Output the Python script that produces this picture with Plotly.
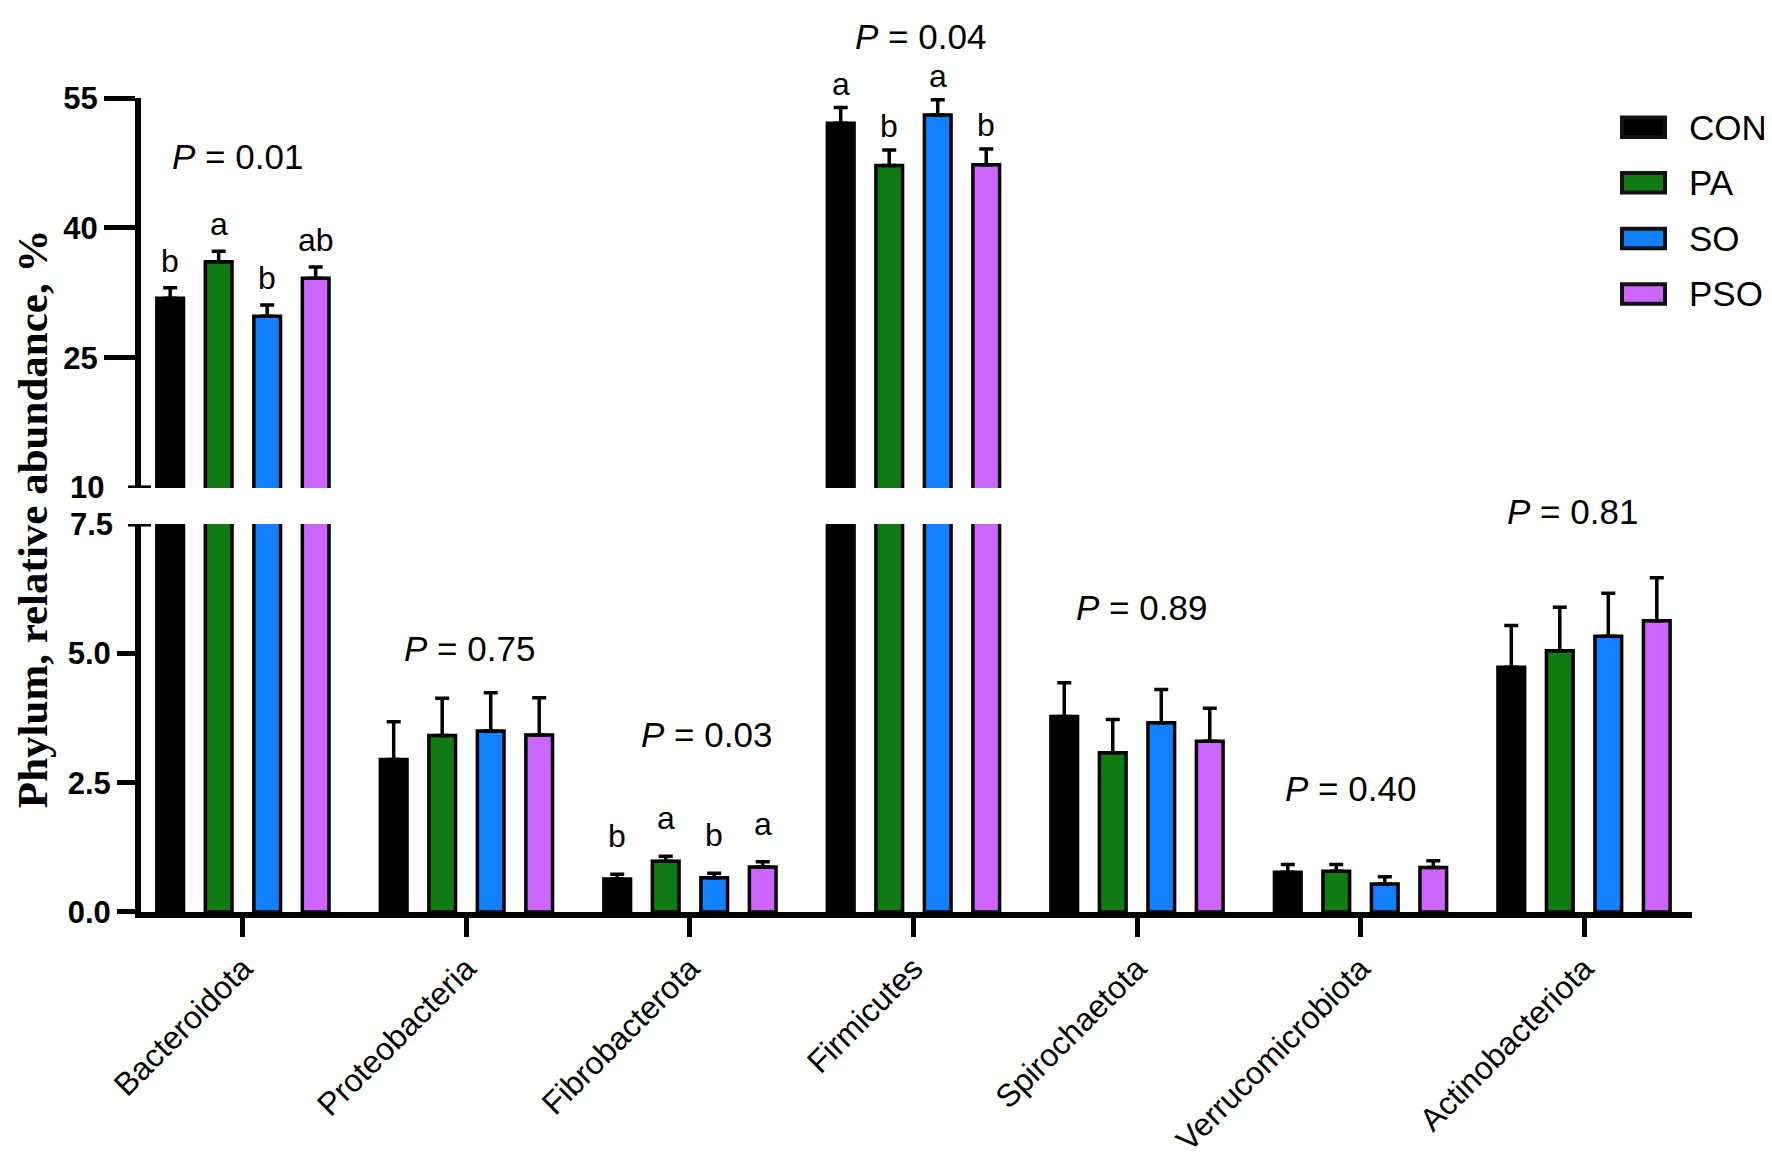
import plotly.graph_objects as go

# Phylum relative abundance (%), mean and SE per treatment
categories = ["Bacteroidota", "Proteobacteria", "Fibrobacterota", "Firmicutes",
              "Spirochaetota", "Verrucomicrobiota", "Actinobacteriota"]
groups = ["CON", "PA", "SO", "PSO"]

con_mean = [31.9, 2.95, 0.64, 52.1, 3.78, 0.77, 4.73]
pa_mean = [36.1, 3.41, 0.98, 47.2, 3.08, 0.79, 5.05]
so_mean = [29.8, 3.50, 0.66, 53.05, 3.66, 0.54, 5.33]
pso_mean = [34.2, 3.42, 0.87, 47.3, 3.30, 0.86, 5.63]

con_se = [1.2, 0.73, 0.09, 1.8, 0.65, 0.15, 0.81]
pa_se = [1.2, 0.72, 0.10, 1.8, 0.64, 0.13, 0.84]
so_se = [1.3, 0.74, 0.09, 1.75, 0.64, 0.14, 0.83]
pso_se = [1.3, 0.72, 0.10, 1.8, 0.64, 0.13, 0.83]

p_values = ["0.01", "0.75", "0.03", "0.04", "0.89", "0.40", "0.81"]

# significance letters (CON, PA, SO, PSO)
letters = {
    "Bacteroidota": ["b", "a", "b", "ab"],
    "Fibrobacterota": ["b", "a", "b", "a"],
    "Firmicutes": ["a", "b", "a", "b"],
}

means = [con_mean, pa_mean, so_mean, pso_mean]
ses = [con_se, pa_se, so_se, pso_se]
colors = ["#000000", "#127A12", "#1380FF", "#CC66FF"]

W, H = 1772, 1162
ML, MR, MT, MB = 133, 88, 90, 237
PW, PH = W - ML - MR, H - MT - MB

SANS = "Liberation Sans, Arial, sans-serif"
SERIF = "Liberation Serif, Times New Roman, serif"

BARGAP = 0.132
x_pos = list(range(len(categories)))


def px_x(px):
    return (px - ML) / PW


def px_y(py):
    return (H - MB - py) / PH


fig = go.Figure()

for j, g in enumerate(groups):
    for xa, ya in [("x", "y"), ("x2", "y2")]:
        fig.add_trace(go.Bar(
            x=x_pos, y=means[j], name=g, xaxis=xa, yaxis=ya,
            marker=dict(color=colors[j], line=dict(color="black", width=3.5)),
            error_y=dict(type="data", symmetric=False, array=ses[j],
                         arrayminus=[0] * len(categories),
                         color="black", thickness=3.5, width=7),
            showlegend=False,
        ))

annotations = []
shapes = []

# P-value labels: (y reference, y, x offset from category centre)
# the two labels sitting above their axis range are placed in paper units
p_place = [("y2", 48.3, -0.025), ("y", 5.09, 0.013), ("y", 3.43, 0.076),
           ("paper", px_y(27), 0.03), ("y", 5.88, 0.02), ("y", 2.39, -0.047),
           ("paper", px_y(514), -0.05)]
for i, p in enumerate(p_values):
    ya, yv, dx = p_place[i]
    annotations.append(dict(
        x=i + dx, y=yv, xref="x", yref=ya, showarrow=False,
        text="<i>P</i> = " + p, font=dict(family=SANS, size=35, color="black"),
        xanchor="center", yanchor="middle"))

# significance letters above error bars
slot = (1 - BARGAP) / 4
letter_shift = {"Bacteroidota": 7, "Firmicutes": 4, "Fibrobacterota": 18}
for cat, labs in letters.items():
    i = categories.index(cat)
    ya = "y" if means[0][i] < 7.5 else "y2"
    for j, lab in enumerate(labs):
        annotations.append(dict(
            x=i + (j - 1.5) * slot, y=means[j][i] + ses[j][i],
            xref="x", yref=ya, showarrow=False, text=lab,
            font=dict(family=SANS, size=32, color="black"),
            xanchor="center", yanchor="bottom", yshift=letter_shift[cat]))

# broken-axis labels and cross bars
annotations.append(dict(x=px_x(98), y=10, xref="paper", yref="y2", text="10",
                        showarrow=False, xanchor="right", yanchor="middle",
                        font=dict(family=SANS, size=31, color="black", weight="bold")))
annotations.append(dict(x=px_x(107), y=7.5, xref="paper", yref="y", text="7.5",
                        showarrow=False, xanchor="right", yanchor="middle",
                        font=dict(family=SANS, size=31, color="black", weight="bold")))
for yr, yv in [("y2", 10), ("y", 7.5)]:
    shapes.append(dict(type="line", xref="paper", yref=yr, x0=px_x(120), x1=px_x(143),
                       y0=yv, y1=yv, line=dict(color="black", width=5)))

# y-axis title spanning both segments
annotations.append(dict(x=px_x(24), y=px_y(522), xref="paper", yref="paper",
                        text="Phylum, relative abundance, %", textangle=-90,
                        showarrow=False, xanchor="center", yanchor="middle",
                        font=dict(family=SERIF, size=43, color="black", weight="bold")))

# legend
leg_y = [120, 177, 234, 291]
for j, g in enumerate(groups):
    shapes.append(dict(type="rect", xref="paper", yref="paper",
                       x0=px_x(1614), x1=px_x(1657),
                       y0=px_y(leg_y[j] + 10), y1=px_y(leg_y[j] - 10),
                       fillcolor=colors[j], line=dict(color="#111111", width=4)))
    annotations.append(dict(x=px_x(1679), y=px_y(leg_y[j]), xref="paper", yref="paper",
                            text=g, showarrow=False, xanchor="left", yanchor="middle",
                            font=dict(family=SANS, size=35, color="black")))

fig.update_layout(
    width=W, height=H,
    margin=dict(l=ML, r=MR, t=MT, b=MB),
    paper_bgcolor="white", plot_bgcolor="white",
    barmode="group", bargap=BARGAP, bargroupgap=0.45,
    showlegend=False,
    xaxis=dict(domain=[0, 1], anchor="y", range=[-0.456, 6.483],
               tickvals=x_pos, ticktext=categories, tickangle=-45,
               ticks="outside", ticklen=19, tickwidth=5, tickcolor="black",
               showline=True, linewidth=6, linecolor="black",
               showgrid=False, zeroline=False,
               tickfont=dict(family=SANS, size=32, color="black")),
    xaxis2=dict(domain=[0, 1], anchor="y2", matches="x", visible=False),
    yaxis=dict(domain=[0, 0.4766], anchor="x", range=[0, 7.5],
               tickvals=[0, 2.5, 5.0], tickformat=".1f",
               ticks="outside", ticklen=18, tickwidth=5, tickcolor="black",
               showline=True, linewidth=6, linecolor="black",
               showgrid=False, zeroline=False,
               tickfont=dict(family=SANS, size=31, color="black", weight="bold")),
    yaxis2=dict(domain=[0.521, 1], anchor="x2", range=[10, 55],
                tickvals=[25, 40, 55],
                ticks="outside", ticklen=31, tickwidth=5, tickcolor="black",
                showline=True, linewidth=6, linecolor="black",
                showgrid=False, zeroline=False,
                tickfont=dict(family=SANS, size=31, color="black", weight="bold")),
    annotations=annotations,
    shapes=shapes,
)

fig.write_html("out.html")
